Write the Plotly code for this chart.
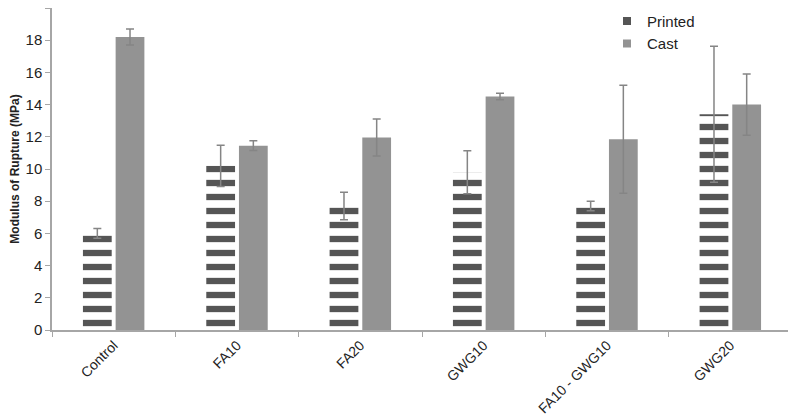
import plotly.graph_objects as go

categories = ["Control", "FA10", "FA20", "GWG10", "FA10 - GWG10", "GWG20"]
printed = [6.0, 10.2, 7.7, 9.8, 7.7, 13.4]
printed_err = [0.3, 1.28, 0.85, 1.33, 0.3, 4.22]
cast = [18.2, 11.45, 11.95, 14.5, 11.85, 14.0]
cast_err = [0.5, 0.3, 1.15, 0.2, 3.35, 1.9]
y_ticks = [0, 2, 4, 6, 8, 10, 12, 14, 16, 18, 20]

FONT = "Liberation Sans, Arial, sans-serif"
DARK = "#555555"
LIGHT = "#939393"
ERR = "#858585"

fig = go.Figure()
fig.add_trace(go.Bar(
    name="Printed", x=categories, y=printed,
    marker=dict(color="white", line=dict(width=0),
                pattern=dict(shape="-", fgcolor=DARK, bgcolor="white", fgopacity=1,
                             size=14, solidity=0.45, fillmode="overlay")),
    error_y=dict(type="data", array=printed_err, color=ERR, thickness=1.5, width=4),
    showlegend=False,
))
fig.add_trace(go.Bar(
    name="Cast", x=categories, y=cast,
    marker=dict(color=LIGHT, line=dict(width=0)),
    error_y=dict(type="data", array=cast_err, color=ERR, thickness=1.5, width=4),
    showlegend=False,
))
# legend-only entries (solid swatches like the original)
fig.add_trace(go.Scatter(name="Printed", x=[None], y=[None], mode="markers",
                         marker=dict(color=DARK, symbol="square", size=8),
                         legendgroup="p", showlegend=True))
fig.add_trace(go.Scatter(name="Cast", x=[None], y=[None], mode="markers",
                         marker=dict(color=LIGHT, symbol="square", size=8),
                         legendgroup="c", showlegend=True))

# the page body adds an 8px offset, so the figure is sized 788x412
fig.update_layout(
    width=788, height=412,
    margin=dict(l=44, r=4, t=0, b=90, autoexpand=False),
    paper_bgcolor="white", plot_bgcolor="white",
    barmode="group", bargap=0.47, bargroupgap=0.12,
    font=dict(family=FONT, size=14, color="#222222"),
    legend=dict(x=0.75, y=1.01, xanchor="left", yanchor="top",
                bgcolor="rgba(0,0,0,0)", font=dict(size=15, color="#222222"),
                itemwidth=30, tracegroupgap=0),
    showlegend=True,
)
fig.update_xaxes(
    showline=True, linecolor="#a6a6a6", linewidth=1.5,
    ticks="outside", tickcolor="#a6a6a6", ticklen=5, tickson="boundaries",
    tickangle=-45, tickfont=dict(size=14, color="#222222"),
    showgrid=False, automargin=False,
)
fig.update_yaxes(
    range=[0, 20], tickvals=y_ticks,
    showline=True, linecolor="#a6a6a6", linewidth=1.5,
    ticks="outside", tickcolor="#a6a6a6", ticklen=5,
    tickfont=dict(size=15, color="#222222"),
    showgrid=False, zeroline=False, automargin=False,
    title=dict(text="<b>Modulus of Rupture (MPa)</b>", font=dict(size=12, color="#222222"), standoff=8),
)
fig.write_html("out.html")
